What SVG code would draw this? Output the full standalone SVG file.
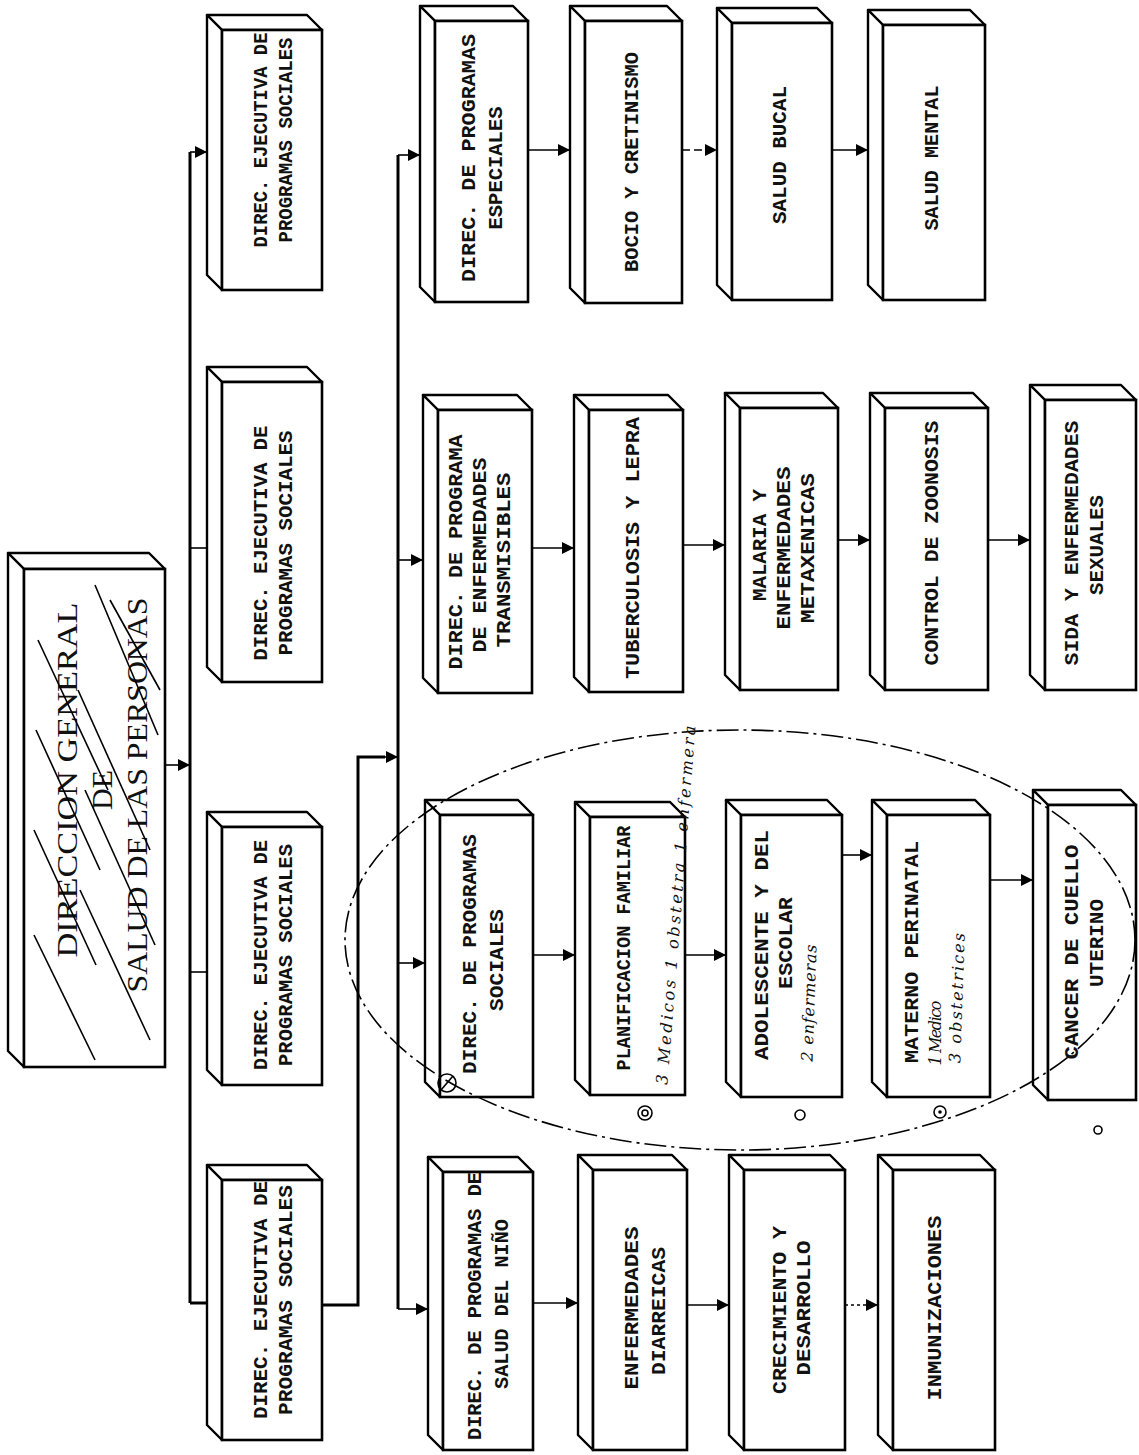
<svg xmlns="http://www.w3.org/2000/svg" width="1139" height="1455" viewBox="0 0 1139 1455">
<style>
.face{fill:#fff;stroke:#000;stroke-width:2.4;stroke-linejoin:round}
.front{fill:#fff;stroke:#000;stroke-width:2.6}
.t{font-family:"Liberation Mono","Courier New",monospace;font-size:21px;font-weight:bold;fill:#111;text-anchor:middle;dominant-baseline:central}
.rt{font-family:"Liberation Serif","Times New Roman",serif;font-size:30px;fill:#111;text-anchor:middle;dominant-baseline:central}
.hw{font-family:"DejaVu Serif",serif;font-style:italic;font-size:16px;fill:#111;text-anchor:middle;dominant-baseline:central}
.bus{fill:none;stroke:#000;stroke-width:3}
.ln{fill:none;stroke:#000;stroke-width:1.6}
.hatch{stroke:#000;stroke-width:1.6;fill:none}
.note{fill:none;stroke:#000;stroke-width:1.6}
</style>
<defs>
<marker id="ah" markerWidth="12" markerHeight="12" refX="11" refY="6" orient="auto" markerUnits="userSpaceOnUse">
<path d="M0,0 L12,6 L0,12 Z" fill="#000"/>
</marker>
</defs>
<rect width="1139" height="1455" fill="#fff"/>

<g id="connectors">
<path class="ln" d="M165 765 L189 765" marker-end="url(#ah)"/>
<path class="bus" d="M190 152 L190 1303"/>
<path class="ln" d="M190 152 L206 152" marker-end="url(#ah)"/>
<path class="ln" d="M190 548 L207 548"/>
<path class="ln" d="M190 972 L207 972"/>
<path class="bus" d="M190 1303 L207 1303"/>
<path class="bus" d="M322 1305 L358 1305 L358 757 L385 757"/>
<path class="ln" d="M380 757 L397 757" marker-end="url(#ah)"/>
<path class="bus" d="M398 155 L398 1309"/>
<path class="ln" d="M398 155 L419 155" marker-end="url(#ah)"/>
<path class="ln" d="M398 560 L422 560" marker-end="url(#ah)"/>
<path class="ln" d="M398 963 L424 963" marker-end="url(#ah)"/>
<path class="ln" d="M398 1309 L427 1309" marker-end="url(#ah)"/>
<path class="ln" d="M528 150 L569 150" marker-end="url(#ah)"/>
<path class="ln" d="M532 548 L573 548" marker-end="url(#ah)"/>
<path class="ln" d="M533 955 L574 955" marker-end="url(#ah)"/>
<path class="ln" d="M533 1303 L577 1303" marker-end="url(#ah)"/>
<path class="ln" d="M682 150 L716 150" stroke-dasharray="8 4" marker-end="url(#ah)"/>
<path class="ln" d="M683 545 L724 545" marker-end="url(#ah)"/>
<path class="ln" d="M685 955 L725 955" marker-end="url(#ah)"/>
<path class="ln" d="M687 1305 L728 1305" marker-end="url(#ah)"/>
<path class="ln" d="M832 150 L867 150" marker-end="url(#ah)"/>
<path class="ln" d="M838 540 L869 540" marker-end="url(#ah)"/>
<path class="ln" d="M842 855 L871 855" marker-end="url(#ah)"/>
<path class="ln" d="M845 1305 L877 1305" stroke-dasharray="3 3" marker-end="url(#ah)"/>
<path class="ln" d="M988 540 L1029 540" marker-end="url(#ah)"/>
<path class="ln" d="M990 880 L1032 880" marker-end="url(#ah)"/>
</g>

<g id="root">
<path class="face" d="M8 553 L149 553 L165 569 L24 569 Z"/>
<path class="face" d="M8 553 L24 569 L24 1067 L8 1051 Z"/>
<rect class="front" x="24" y="569" width="141" height="498"/>
<text class="rt" transform="translate(66,780) rotate(-90)" textLength="355" lengthAdjust="spacingAndGlyphs">DIRECCION GENERAL</text>
<text class="rt" transform="translate(101,790) rotate(-90)">DE</text>
<text class="rt" transform="translate(136,795) rotate(-90)" textLength="395" lengthAdjust="spacingAndGlyphs">SALUD DE LAS PERSONAS</text>
<g class="hatch">
<path d="M95 585 L158 735"/>
<path d="M38 640 L108 790"/>
<path d="M78 690 L150 850"/>
<path d="M36 730 L100 870"/>
<path d="M85 790 L155 945"/>
<path d="M34 830 L96 965"/>
<path d="M80 890 L150 1040"/>
<path d="M34 935 L95 1060"/>
<path d="M110 600 L160 690"/>
</g>
</g>

<g id="ejec1">
<path class="face" d="M207 15 L307 15 L322 30 L222 30 Z"/>
<path class="face" d="M207 15 L222 30 L222 290 L207 275 Z"/>
<rect class="front" x="222" y="30" width="100" height="260"/>
<text class="t" transform="translate(261,140) rotate(-90)" textLength="215" lengthAdjust="spacingAndGlyphs">DIREC. EJECUTIVA DE</text>
<text class="t" transform="translate(286,140) rotate(-90)" textLength="205" lengthAdjust="spacingAndGlyphs">PROGRAMAS SOCIALES</text>
</g>
<g id="ejec2">
<path class="face" d="M207 367 L307 367 L322 382 L222 382 Z"/>
<path class="face" d="M207 367 L222 382 L222 682 L207 667 Z"/>
<rect class="front" x="222" y="382" width="100" height="300"/>
<text class="t" transform="translate(261,543) rotate(-90)" textLength="235" lengthAdjust="spacingAndGlyphs">DIREC. EJECUTIVA DE</text>
<text class="t" transform="translate(286,543) rotate(-90)" textLength="225" lengthAdjust="spacingAndGlyphs">PROGRAMAS SOCIALES</text>
</g>
<g id="ejec3">
<path class="face" d="M207 812 L307 812 L322 827 L222 827 Z"/>
<path class="face" d="M207 812 L222 827 L222 1085 L207 1070 Z"/>
<rect class="front" x="222" y="827" width="100" height="258"/>
<text class="t" transform="translate(261,955) rotate(-90)" textLength="230" lengthAdjust="spacingAndGlyphs">DIREC. EJECUTIVA DE</text>
<text class="t" transform="translate(286,955) rotate(-90)" textLength="222" lengthAdjust="spacingAndGlyphs">PROGRAMAS SOCIALES</text>
</g>
<g id="ejec4">
<path class="face" d="M207 1165 L307 1165 L322 1180 L222 1180 Z"/>
<path class="face" d="M207 1165 L222 1180 L222 1440 L207 1425 Z"/>
<rect class="front" x="222" y="1180" width="100" height="260"/>
<text class="t" transform="translate(261,1300) rotate(-90)" textLength="238" lengthAdjust="spacingAndGlyphs">DIREC. EJECUTIVA DE</text>
<text class="t" transform="translate(286,1300) rotate(-90)" textLength="230" lengthAdjust="spacingAndGlyphs">PROGRAMAS SOCIALES</text>
</g>

<g id="especiales">
<path class="face" d="M420 6 L513 6 L528 21 L435 21 Z"/>
<path class="face" d="M420 6 L435 21 L435 302 L420 287 Z"/>
<rect class="front" x="435" y="21" width="93" height="281"/>
<text class="t" transform="translate(469,158) rotate(-90)" textLength="248" lengthAdjust="spacingAndGlyphs">DIREC. DE PROGRAMAS</text>
<text class="t" transform="translate(496,168) rotate(-90)" textLength="123" lengthAdjust="spacingAndGlyphs">ESPECIALES</text>
</g>
<g id="transmisibles">
<path class="face" d="M423 395 L517 395 L532 410 L438 410 Z"/>
<path class="face" d="M423 395 L438 410 L438 693 L423 678 Z"/>
<rect class="front" x="438" y="410" width="94" height="283"/>
<text class="t" transform="translate(456,552) rotate(-90)" textLength="235" lengthAdjust="spacingAndGlyphs">DIREC. DE PROGRAMA</text>
<text class="t" transform="translate(480,555) rotate(-90)" textLength="195" lengthAdjust="spacingAndGlyphs">DE ENFERMEDADES</text>
<text class="t" transform="translate(504,560) rotate(-90)" textLength="175" lengthAdjust="spacingAndGlyphs">TRANSMISIBLES</text>
</g>
<g id="sociales">
<path class="face" d="M425 800 L518 800 L533 815 L440 815 Z"/>
<path class="face" d="M425 800 L440 815 L440 1097 L425 1082 Z"/>
<rect class="front" x="440" y="815" width="93" height="282"/>
<text class="t" transform="translate(470,954) rotate(-90)" textLength="240" lengthAdjust="spacingAndGlyphs">DIREC. DE PROGRAMAS</text>
<text class="t" transform="translate(497,960) rotate(-90)" textLength="102" lengthAdjust="spacingAndGlyphs">SOCIALES</text>
</g>
<g id="nino">
<path class="face" d="M428 1157 L518 1157 L533 1172 L443 1172 Z"/>
<path class="face" d="M428 1157 L443 1172 L443 1450 L428 1435 Z"/>
<rect class="front" x="443" y="1172" width="90" height="278"/>
<text class="t" transform="translate(475,1306) rotate(-90)" textLength="268" lengthAdjust="spacingAndGlyphs">DIREC. DE PROGRAMAS DE</text>
<text class="t" transform="translate(502,1304) rotate(-90)" textLength="170" lengthAdjust="spacingAndGlyphs">SALUD DEL NIÑO</text>
</g>

<g id="bocio">
<path class="face" d="M570 6 L667 6 L682 21 L585 21 Z"/>
<path class="face" d="M570 6 L585 21 L585 303 L570 288 Z"/>
<rect class="front" x="585" y="21" width="97" height="282"/>
<text class="t" transform="translate(632,162) rotate(-90)" textLength="220" lengthAdjust="spacingAndGlyphs">BOCIO Y CRETINISMO</text>
</g>
<g id="tuberculosis">
<path class="face" d="M574 395 L668 395 L683 410 L589 410 Z"/>
<path class="face" d="M574 395 L589 410 L589 692 L574 677 Z"/>
<rect class="front" x="589" y="410" width="94" height="282"/>
<text class="t" transform="translate(633,548) rotate(-90)" textLength="262" lengthAdjust="spacingAndGlyphs">TUBERCULOSIS Y LEPRA</text>
</g>
<g id="planificacion">
<path class="face" d="M575 802 L670 802 L685 817 L590 817 Z"/>
<path class="face" d="M575 802 L590 817 L590 1095 L575 1080 Z"/>
<rect class="front" x="590" y="817" width="95" height="278"/>
<text class="t" transform="translate(624,948) rotate(-90)" textLength="245" lengthAdjust="spacingAndGlyphs">PLANIFICACION FAMILIAR</text>
</g>
<g id="diarreicas">
<path class="face" d="M578 1155 L672 1155 L687 1170 L593 1170 Z"/>
<path class="face" d="M578 1155 L593 1170 L593 1450 L578 1435 Z"/>
<rect class="front" x="593" y="1170" width="94" height="280"/>
<text class="t" transform="translate(632,1308) rotate(-90)" textLength="163" lengthAdjust="spacingAndGlyphs">ENFERMEDADES</text>
<text class="t" transform="translate(659,1311) rotate(-90)" textLength="128" lengthAdjust="spacingAndGlyphs">DIARREICAS</text>
</g>

<g id="bucal">
<path class="face" d="M717 8 L817 8 L832 23 L732 23 Z"/>
<path class="face" d="M717 8 L732 23 L732 300 L717 285 Z"/>
<rect class="front" x="732" y="23" width="100" height="277"/>
<text class="t" transform="translate(780,155) rotate(-90)" textLength="138" lengthAdjust="spacingAndGlyphs">SALUD BUCAL</text>
</g>
<g id="malaria">
<path class="face" d="M725 393 L823 393 L838 408 L740 408 Z"/>
<path class="face" d="M725 393 L740 408 L740 690 L725 675 Z"/>
<rect class="front" x="740" y="408" width="98" height="282"/>
<text class="t" transform="translate(760,545) rotate(-90)" textLength="112" lengthAdjust="spacingAndGlyphs">MALARIA Y</text>
<text class="t" transform="translate(784,548) rotate(-90)" textLength="163" lengthAdjust="spacingAndGlyphs">ENFERMEDADES</text>
<text class="t" transform="translate(808,548) rotate(-90)" textLength="150" lengthAdjust="spacingAndGlyphs">METAXENICAS</text>
</g>
<g id="adolescente">
<path class="face" d="M726 800 L827 800 L842 815 L741 815 Z"/>
<path class="face" d="M726 800 L741 815 L741 1097 L726 1082 Z"/>
<rect class="front" x="741" y="815" width="101" height="282"/>
<text class="t" transform="translate(762,945) rotate(-90)" textLength="230" lengthAdjust="spacingAndGlyphs">ADOLESCENTE Y DEL</text>
<text class="t" transform="translate(786,943) rotate(-90)" textLength="92" lengthAdjust="spacingAndGlyphs">ESCOLAR</text>
</g>
<g id="crecimiento">
<path class="face" d="M729 1155 L830 1155 L845 1170 L744 1170 Z"/>
<path class="face" d="M729 1155 L744 1170 L744 1450 L729 1435 Z"/>
<rect class="front" x="744" y="1170" width="101" height="280"/>
<text class="t" transform="translate(780,1310) rotate(-90)" textLength="168" lengthAdjust="spacingAndGlyphs">CRECIMIENTO Y</text>
<text class="t" transform="translate(804,1308) rotate(-90)" textLength="135" lengthAdjust="spacingAndGlyphs">DESARROLLO</text>
</g>

<g id="mental">
<path class="face" d="M868 10 L970 10 L985 25 L883 25 Z"/>
<path class="face" d="M868 10 L883 25 L883 300 L868 285 Z"/>
<rect class="front" x="883" y="25" width="102" height="275"/>
<text class="t" transform="translate(932,158) rotate(-90)" textLength="145" lengthAdjust="spacingAndGlyphs">SALUD MENTAL</text>
</g>
<g id="zoonosis">
<path class="face" d="M870 393 L973 393 L988 408 L885 408 Z"/>
<path class="face" d="M870 393 L885 408 L885 690 L870 675 Z"/>
<rect class="front" x="885" y="408" width="103" height="282"/>
<text class="t" transform="translate(932,543) rotate(-90)" textLength="245" lengthAdjust="spacingAndGlyphs">CONTROL DE ZOONOSIS</text>
</g>
<g id="materno">
<path class="face" d="M872 800 L975 800 L990 815 L887 815 Z"/>
<path class="face" d="M872 800 L887 815 L887 1097 L872 1082 Z"/>
<rect class="front" x="887" y="815" width="103" height="282"/>
<text class="t" transform="translate(912,952) rotate(-90)" textLength="222" lengthAdjust="spacingAndGlyphs">MATERNO PERINATAL</text>
</g>
<g id="inmunizaciones">
<path class="face" d="M878 1155 L980 1155 L995 1170 L893 1170 Z"/>
<path class="face" d="M878 1155 L893 1170 L893 1450 L878 1435 Z"/>
<rect class="front" x="893" y="1170" width="102" height="280"/>
<text class="t" transform="translate(935,1308) rotate(-90)" textLength="185" lengthAdjust="spacingAndGlyphs">INMUNIZACIONES</text>
</g>

<g id="sida">
<path class="face" d="M1030 385 L1121 385 L1136 400 L1045 400 Z"/>
<path class="face" d="M1030 385 L1045 400 L1045 690 L1030 675 Z"/>
<rect class="front" x="1045" y="400" width="91" height="290"/>
<text class="t" transform="translate(1072,543) rotate(-90)" textLength="245" lengthAdjust="spacingAndGlyphs">SIDA Y ENFERMEDADES</text>
<text class="t" transform="translate(1097,545) rotate(-90)" textLength="100" lengthAdjust="spacingAndGlyphs">SEXUALES</text>
</g>
<g id="cancer">
<path class="face" d="M1033 790 L1121 790 L1136 805 L1048 805 Z"/>
<path class="face" d="M1033 790 L1048 805 L1048 1100 L1033 1085 Z"/>
<rect class="front" x="1048" y="805" width="88" height="295"/>
<text class="t" transform="translate(1072,952) rotate(-90)" textLength="215" lengthAdjust="spacingAndGlyphs">CANCER DE CUELLO</text>
<text class="t" transform="translate(1097,943) rotate(-90)" textLength="88" lengthAdjust="spacingAndGlyphs">UTERINO</text>
</g>

<g id="annotations">
<ellipse class="note" cx="740" cy="940" rx="395" ry="210" stroke-dasharray="22 5 3 5"/>
<text class="hw" transform="translate(676,905) rotate(-85.5)" textLength="360" lengthAdjust="spacing">3 Medicos 1 obstetra 1 enfermera</text>
<text class="hw" transform="translate(809,1003) rotate(-88)" textLength="117" lengthAdjust="spacing">2 enfermeras</text>
<text class="hw" transform="translate(935,1033) rotate(-90)" textLength="65" lengthAdjust="spacing">1 Medico</text>
<text class="hw" transform="translate(957,998) rotate(-88)" textLength="130" lengthAdjust="spacing">3 obstetrices</text>
<circle class="note" cx="447" cy="1083" r="9" stroke-width="2.2"/>
<path class="note" d="M441 1090 L453 1076" stroke-width="2"/>
<circle class="note" cx="645" cy="1113" r="7"/>
<circle class="note" cx="645" cy="1113" r="3"/>
<circle class="note" cx="800" cy="1115" r="5"/>
<circle class="note" cx="940" cy="1112" r="6"/>
<circle cx="940" cy="1112" r="1.8" fill="#000"/>
<circle class="note" cx="1098" cy="1130" r="4"/>
</g>
</svg>
